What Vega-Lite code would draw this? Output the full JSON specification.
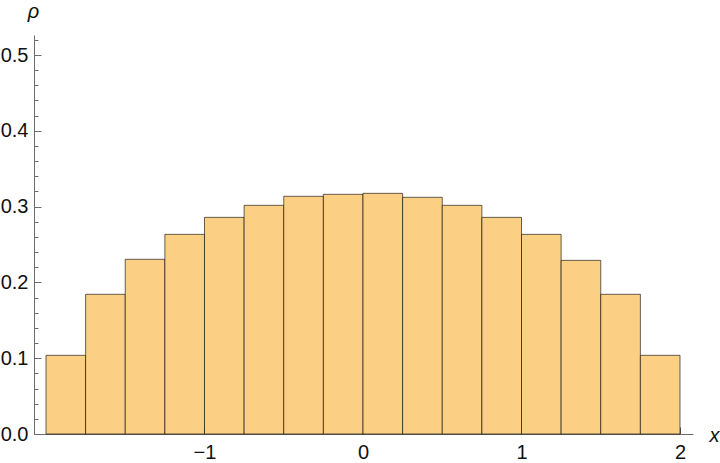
{
  "$schema": "https://vega.github.io/schema/vega-lite/v6.json",
  "width": 659,
  "height": 399,
  "autosize": {"type": "none"},
  "padding": {"left": 34, "top": 35, "right": 27, "bottom": 29},
  "background": "white",
  "config": {"view": {"stroke": null}},
  "data": {
    "values": [
      {"x0": -2.0, "x1": -1.75, "rho": 0.1038},
      {"x0": -1.75, "x1": -1.5, "rho": 0.1843},
      {"x0": -1.5, "x1": -1.25, "rho": 0.2305},
      {"x0": -1.25, "x1": -1.0, "rho": 0.2634},
      {"x0": -1.0, "x1": -0.75, "rho": 0.2858},
      {"x0": -0.75, "x1": -0.5, "rho": 0.3017},
      {"x0": -0.5, "x1": -0.25, "rho": 0.3136},
      {"x0": -0.25, "x1": 0.0, "rho": 0.3162},
      {"x0": 0.0, "x1": 0.25, "rho": 0.3175},
      {"x0": 0.25, "x1": 0.5, "rho": 0.3123},
      {"x0": 0.5, "x1": 0.75, "rho": 0.3017},
      {"x0": 0.75, "x1": 1.0, "rho": 0.2858},
      {"x0": 1.0, "x1": 1.25, "rho": 0.2634},
      {"x0": 1.25, "x1": 1.5, "rho": 0.2291},
      {"x0": 1.5, "x1": 1.75, "rho": 0.1843},
      {"x0": 1.75, "x1": 2.0, "rho": 0.1038}
    ]
  },
  "resolve": {"axis": {"x": "independent", "y": "independent"}},
  "layer": [
    {
      "mark": {"type": "bar", "opacity": 0},
      "encoding": {
        "x": {
          "field": "x0", "type": "quantitative",
          "scale": {"domain": [-2.0757, 2.082], "nice": false, "zero": false},
          "axis": {
            "orient": "bottom", "title": null, "labels": false, "domain": false, "grid": false,
            "values": [-2, -1.8, -1.6, -1.4, -1.2, -1, -0.8, -0.6, -0.4, -0.2, 0, 0.2, 0.4, 0.6, 0.8, 1, 1.2, 1.4, 1.6, 1.8, 2],
            "tickColor": "#6b6b6b", "tickWidth": 1,
            "tickSize": {"condition": {"test": "abs(datum.value - round(datum.value)) < 1e-6", "value": -7}, "value": -4}
          }
        },
        "x2": {"field": "x1"},
        "y": {
          "field": "rho", "type": "quantitative",
          "scale": {"domain": [0, 0.5264], "nice": false},
          "axis": {
            "orient": "left", "title": null, "labels": false, "domain": false, "grid": false,
            "values": [0, 0.02, 0.04, 0.06, 0.08, 0.1, 0.12, 0.14, 0.16, 0.18, 0.2, 0.22, 0.24, 0.26, 0.28, 0.3, 0.32, 0.34, 0.36, 0.38, 0.4, 0.42, 0.44, 0.46, 0.48, 0.5, 0.52],
            "tickColor": "#6b6b6b", "tickWidth": 1,
            "tickSize": {"condition": {"test": "abs(datum.value * 10 - round(datum.value * 10)) < 1e-6", "value": -7}, "value": -4}
          }
        },
        "y2": {"datum": 0}
      }
    },
    {
      "mark": {"type": "bar", "fill": "#fcd084", "stroke": "#000000", "strokeOpacity": 0.6, "strokeWidth": 1},
      "encoding": {
        "x": {
          "field": "x0", "type": "quantitative",
          "axis": {
            "orient": "bottom",
            "title": "x",
            "titleFont": "Liberation Sans", "titleFontStyle": "italic", "titleFontWeight": "normal", "titleFontSize": 20, "titleColor": "#111111",
            "titleAngle": 0, "titleX": 680, "titleY": 7, "titleAlign": "center", "titleBaseline": "alphabetic",
            "values": [-1, 0, 1, 2],
            "format": "d",
            "ticks": false,
            "labelOverlap": false, "labelBound": false, "labelFlush": false,
            "labelFont": "Liberation Sans", "labelFontSize": 20, "labelColor": "#111111", "labelPadding": 8,
            "domainColor": "#6b6b6b", "domainWidth": 1,
            "grid": false
          }
        },
        "x2": {"field": "x1"},
        "y": {
          "field": "rho", "type": "quantitative",
          "axis": {
            "orient": "left",
            "title": "ρ",
            "titleFont": "Liberation Sans", "titleFontStyle": "italic", "titleFontWeight": "normal", "titleFontSize": 20, "titleColor": "#111111",
            "titleAngle": 0, "titleX": -1, "titleY": -18, "titleAlign": "center", "titleBaseline": "alphabetic",
            "values": [0, 0.1, 0.2, 0.3, 0.4, 0.5],
            "format": ".1f",
            "ticks": false,
            "labelOverlap": false, "labelBound": false, "labelFlush": false,
            "labelFont": "Liberation Sans", "labelFontSize": 20, "labelColor": "#111111", "labelPadding": 6,
            "domainColor": "#6b6b6b", "domainWidth": 1,
            "grid": false
          }
        },
        "y2": {"datum": 0}
      }
    }
  ]
}
